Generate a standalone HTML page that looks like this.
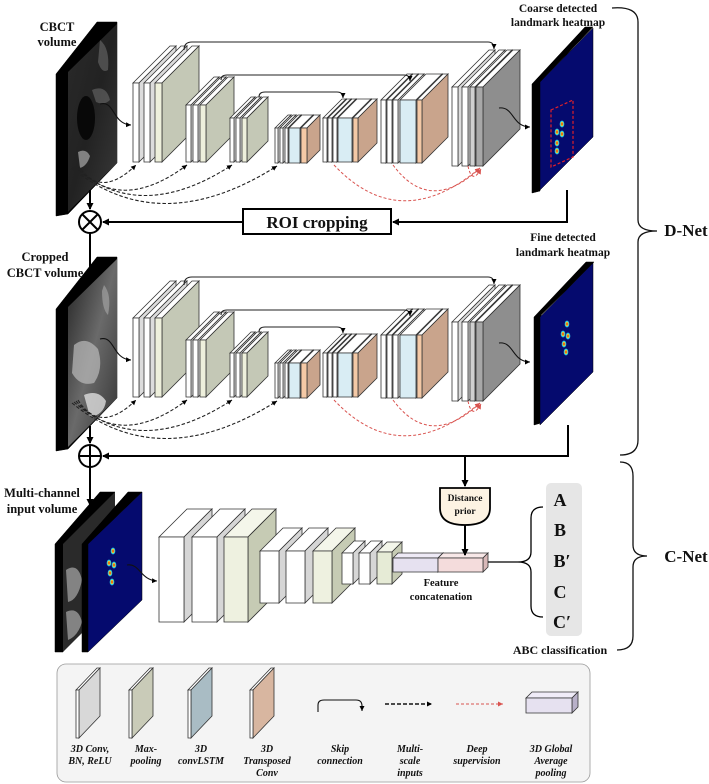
<!DOCTYPE html>
<html><head><meta charset="utf-8">
<style>
html,body{margin:0;padding:0;background:#fff;}
svg{display:block;}
text{font-family:"Liberation Serif",serif;font-weight:bold;fill:#111;}
</style></head>
<body>
<svg id="s" width="709" height="784" viewBox="0 0 709 784" xmlns="http://www.w3.org/2000/svg">
<defs>
<marker id="ab" markerWidth="8" markerHeight="8" refX="6" refY="4" orient="auto" markerUnits="userSpaceOnUse"><path d="M0,0.5 L7,4 L0,7.5 Z" fill="#000"/></marker>
<marker id="as" markerWidth="6" markerHeight="6" refX="5" refY="3" orient="auto" markerUnits="userSpaceOnUse"><path d="M0,0.5 L5,3 L0,5.5 Z" fill="#000"/></marker>
<marker id="ar" markerWidth="6" markerHeight="6" refX="5" refY="3" orient="auto" markerUnits="userSpaceOnUse"><path d="M0,0.5 L5,3 L0,5.5 Z" fill="#d9534f"/></marker>
<linearGradient id="ct1" x1="0" y1="0" x2="1" y2="1"><stop offset="0" stop-color="#2a2a2a"/><stop offset="0.5" stop-color="#222"/><stop offset="1" stop-color="#3a3a3a"/></linearGradient>
<linearGradient id="ct2" x1="0" y1="0" x2="1" y2="1"><stop offset="0" stop-color="#222"/><stop offset="0.5" stop-color="#6a6a6a"/><stop offset="1" stop-color="#333"/></linearGradient>
</defs>
<g id="root"></g>
</svg>
<script>
var o=[];
function P(pts,f,sw,st){o.push('<polygon points="'+pts.map(function(p){return p[0]+','+p[1]}).join(' ')+'" fill="'+f+'" stroke="'+(st||'#333')+'" stroke-width="'+(sw==null?0.8:sw)+'"/>');}
function slab(x,y,w,h,d,ff,sf,tf){
 P([[x,y],[x+d,y-d],[x+w+d,y-d],[x+w,y]],tf||'#fff');
 P([[x+w,y],[x+w+d,y-d],[x+w+d,y+h-d],[x+w,y+h]],sf);
 P([[x,y],[x+w,y],[x+w,y+h],[x,y+h]],ff);
}
var W='#fff',GS='#dcdcdc',CF='#eef0dc',CS='#c4c8b6',BF='#d9edf4',BS='#d6e9f1',PF='#f4c9a6',PS='#c9a48c';
function dot(x,y){o.push('<ellipse cx="'+x+'" cy="'+y+'" rx="2.3" ry="3.4" fill="#28c8e8"/><ellipse cx="'+x+'" cy="'+y+'" rx="1.4" ry="2.2" fill="#f0c020"/><ellipse cx="'+x+'" cy="'+y+'" rx="0.7" ry="1" fill="#e03010"/>');}
function path(d,st,sw,extra){o.push('<path d="'+d+'" fill="none" stroke="'+st+'" stroke-width="'+sw+'" '+(extra||'')+'/>');}
function T(x,y,s,size,extra){o.push('<text x="'+x+'" y="'+y+'" font-size="'+size+'" text-anchor="middle" '+(extra||'')+'>'+s+'</text>');}

function net(dy,img,second){
 var Y=function(v){return v+dy;};
 P([[56,Y(74)],[97,Y(22)],[117,Y(22)],[117,Y(163)],[68,Y(214)],[56,Y(216)]],'#000',0.5,'#000');
 P([[68,Y(72)],[117,Y(24)],[117,Y(163)],[68,Y(212)]],img,0);
 if(!second){
  o.push('<ellipse cx="86" cy="'+Y(118)+'" rx="9" ry="22" fill="#080808"/>');
  o.push('<path d="M78,'+Y(152)+' q8,-4 12,4 q-3,10 -10,12 z" fill="#aaa" opacity="0.7"/>');
  o.push('<path d="M100,'+Y(40)+' q10,8 8,30 q-6,4 -10,-8z M92,'+Y(90)+' q14,-6 18,10 q-6,6 -14,2z" fill="#777" opacity="0.5"/>');
 } else {
  o.push('<path d="M74,'+Y(110)+' q12,-10 24,4 q6,20 -4,34 q-14,4 -22,-10z" fill="#bbb" opacity="0.7"/>');
  o.push('<path d="M84,'+Y(160)+' q14,-6 22,6 q-2,14 -16,16z" fill="#ddd" opacity="0.8"/>');
  o.push('<path d="M104,'+Y(50)+' q8,10 4,30 q-6,-6 -6,-24z" fill="#aaa" opacity="0.6"/>');
 }
 slab(133,Y(83),6,79,37,W,GS); slab(144,Y(83),6,79,37,W,GS); slab(155,Y(83),7,79,37,CF,CS);
 slab(186,Y(105),5,57,28,W,GS); slab(193,Y(105),5,57,28,W,GS); slab(200,Y(105),6,57,28,CF,CS);
 slab(230,Y(118),4,44,21,W,GS); slab(236,Y(118),4,44,21,W,GS); slab(242,Y(118),5,44,21,CF,CS);
 slab(275,Y(128),3,35,13,W,GS); slab(280,Y(128),3,35,13,W,GS); slab(285,Y(128),3,35,13,W,GS);
 slab(289,Y(128),11,35,13,BF,BS); slab(301,Y(128),6,35,13,PF,PS);
 slab(323,Y(118),4,44,19,W,GS); slab(328,Y(118),4,44,19,W,GS); slab(333,Y(118),4,44,19,W,GS);
 slab(338,Y(118),14,44,19,BF,BS); slab(353,Y(118),5,44,19,PF,PS);
 slab(381,Y(100),5,63,26,W,GS); slab(387,Y(100),5,63,26,W,GS); slab(393,Y(100),5,63,26,W,GS);
 slab(400,Y(100),16,63,26,BF,BS); slab(417,Y(100),5,63,26,PF,PS);
 slab(452,Y(87),6,79,37,W,GS); slab(462,Y(87),6,79,37,W,GS); slab(470,Y(87),5,79,37,'#d0d0d0','#bdbdbd'); slab(476,Y(87),7,79,37,'#a8a8a8','#8e8e8e');
 if(!second){
  P([[532,Y(84)],[585,Y(27)],[593,Y(27)],[540,Y(82)],[540,Y(191)],[532,Y(193)]],'#000',0.5,'#000');
 } else {
  P([[534,Y(82)],[586,Y(27)],[594,Y(27)],[541,Y(80)],[541,Y(188)],[534,Y(190)]],'#000',0.5,'#000');
 }
 P([[540,Y(82)],[593,Y(28)],[593,Y(137)],[540,Y(190)]],'#050a6e',0.5,'#000');
 if(!second){
  P([[551,Y(110)],[573,Y(100)],[573,Y(157)],[551,Y(167)]],'none',1.2,'#e0202a');
  o[o.length-1]=o[o.length-1].replace('/>',' stroke-dasharray="3,2"/>');
  dot(557,Y(132));dot(562,Y(124));dot(562,Y(134));dot(557,Y(143));dot(557,Y(151));
 } else {
  dot(567,Y(89));dot(563,Y(99));dot(568,Y(101));dot(564,Y(109));dot(566,Y(117));
 }
 path('M184,'+Y(50)+' Q184,'+Y(42)+' 192,'+Y(42)+' L488,'+Y(42)+' Q494,'+Y(42)+' 494,'+Y(49),'#222',1.1,'marker-end="url(#as)"');
 path('M221,'+Y(80)+' Q221,'+Y(75)+' 227,'+Y(75)+' L404,'+Y(75)+' Q410,'+Y(75)+' 410,'+Y(81),'#222',1.1,'marker-end="url(#as)"');
 path('M259,'+Y(97)+' Q259,'+Y(92)+' 265,'+Y(92)+' L337,'+Y(92)+' Q343,'+Y(92)+' 343,'+Y(98),'#222',1.1,'marker-end="url(#as)"');
 path('M100,'+Y(104)+' C115,'+Y(100)+' 112,'+Y(124)+' 131,'+Y(125),'#111',1.1,'marker-end="url(#as)"');
 path('M499,'+Y(108)+' C514,'+Y(106)+' 512,'+Y(127)+' 530,'+Y(127),'#111',1.1,'marker-end="url(#as)"');
 var da='stroke-dasharray="3.5,2" marker-end="url(#as)"';
 path('M78,'+Y(165)+' Q100,'+Y(200)+' 136,'+Y(165),'#222',1.1,da);
 path('M76,'+Y(166)+' Q120,'+Y(215)+' 187,'+Y(165),'#222',1.1,da);
 path('M74,'+Y(167)+' Q140,'+Y(225)+' 232,'+Y(165),'#222',1.1,da);
 path('M72,'+Y(168)+' Q160,'+Y(240)+' 277,'+Y(166),'#222',1.1,da);
 var dr='stroke-dasharray="3,2" marker-end="url(#ar)"';
 path('M334,'+Y(165)+' Q400,'+Y(235)+' 480,'+Y(168),'#d9534f',1,dr);
 path('M393,'+Y(165)+' Q430,'+Y(215)+' 480,'+Y(168),'#d9534f',1,dr);
 path('M468,'+Y(166)+' Q472,'+Y(185)+' 481,'+Y(169),'#d9534f',1,dr);
}
net(0,'url(#ct1)',false);
net(235,'url(#ct2)',true);

T(57,31,'CBCT',12.5); T(57,46,'volume',12.5);
T(45,261,'Cropped',12.5); T(45,277,'CBCT volume',12.5);
T(558,12,'Coarse detected',11.5); T(558,26,'landmark heatmap',11.5);
T(563,241,'Fine detected',11.5); T(563,256,'landmark heatmap',11.5);

o.push('<rect x="243" y="209" width="148" height="25" fill="#fff" stroke="#000" stroke-width="2"/>');
T(317,228,'ROI cropping',17);
path('M567,190 L567,222 L393,222','#000',2,'marker-end="url(#ab)"');
path('M243,222 L103,222','#000',2,'marker-end="url(#ab)"');
path('M90,190 L90,209','#000',2,'marker-end="url(#ab)"');
o.push('<circle cx="90" cy="222" r="11" fill="#fff" stroke="#000" stroke-width="2"/><path d="M82,214 L98,230 M98,214 L82,230" stroke="#000" stroke-width="2"/>');
path('M90,233 L90,276','#000',2,'marker-end="url(#ab)"');
path('M90,426 L90,443','#000',2,'marker-end="url(#ab)"');
path('M568,425 L568,456 L103,456','#000',2,'marker-end="url(#ab)"');
o.push('<circle cx="90" cy="456" r="11" fill="#fff" stroke="#000" stroke-width="2"/><path d="M79,456 L101,456 M90,445 L90,467" stroke="#000" stroke-width="2"/>');
path('M90,467 L90,505','#000',2,'marker-end="url(#ab)"');
path('M465,456 L465,486','#000',2,'marker-end="url(#ab)"');

T(42,497,'Multi-channel',12.5); T(42,513,'input volume',12.5);
P([[55,544],[100,492],[115,492],[63,544],[63,652],[55,652]],'#000',0.5,'#000');
P([[63,544],[115,492],[115,600],[63,652]],'#2a2a2a',0);
o.push('<path d="M66,570 q12,-8 16,10 q-4,20 -14,22z M66,612 q12,-6 16,10 q-4,14 -14,18z" fill="#aaa" opacity="0.7"/>');
P([[82,544],[128,492],[142,492],[88,544],[88,652],[82,652]],'#000',0.5,'#000');
P([[88,544],[142,492],[142,600],[88,652]],'#050a6e',0.5,'#000');
dot(113,551);dot(109,563);dot(114,565);dot(110,573);dot(112,582);
path('M127,565 C140,563 140,580 157,581','#111',1.1,'marker-end="url(#as)"');

slab(159,537,25,85,28,W,'#d6d6d6'); slab(192,537,25,85,28,W,'#d6d6d6'); slab(224,537,24,85,28,'#eef1e0','#c6cbb4','#f4f6ea');
slab(260,551,19,52,23,W,'#d6d6d6'); slab(286,551,19,52,23,W,'#d6d6d6'); slab(313,551,19,52,23,'#eef1e0','#c6cbb4','#f4f6ea');
slab(342,553,11,31,12,W,'#d6d6d6'); slab(359,553,11,31,12,W,'#d6d6d6'); slab(377,552,15,32,10,'#e6ebd6','#c6cbb4','#f4f6ea');
slab(393,558,45,14,5,'#e6e1f0','#cfc6e0','#eeeaf6'); slab(438,558,45,14,5,'#f4dcdc','#d8b8b8','#f8e8e8');
T(441,586,'Feature',10.5); T(441,600,'concatenation',10.5);
o.push('<path d="M440,488 L490,488 L490,508 Q490,525 465,525 Q440,525 440,508 Z" fill="#fdf3e3" stroke="#000" stroke-width="1.8"/>');
T(465,501,'Distance',9.5); T(465,514,'prior',9.5);
path('M465,525 L465,555','#000',2,'marker-end="url(#ab)"');
path('M488,562 L518,562','#000',1.3);
path('M543,507 Q531,507 531,518 L531,552 Q531,562 518,562 Q531,562 531,572 L531,606 Q531,617 543,617','#000',1.3);
o.push('<rect x="546" y="483" width="36" height="153" rx="5" fill="#e6e6e6"/>');
T(560,506,'A',18); T(560,536,'B',18); T(562,567,'B′',18); T(560,598,'C',18); T(562,628,'C′',18);
T(560,654,'ABC classification',12);

path('M612,8 Q638,6 638,22 L638,220 Q638,231 657,231 Q638,231 638,242 L638,440 Q638,455 620,455','#111',1.3);
path('M620,462 Q633,462 633,476 L633,545 Q633,556 647,556 Q633,556 633,567 L633,636 Q633,650 617,650','#111',1.3);
T(686,236,'D-Net',17); T(686,562,'C-Net',17);

o.push('<rect x="57" y="664" width="533" height="118" rx="9" fill="#f4f4f4" stroke="#999" stroke-width="0.8"/>');
function lslab(x,c){P([[x,690],[x+21,668],[x+24,668],[x+3,690]],'#fff');P([[x+3,690],[x+24,668],[x+24,716],[x+3,738]],c);P([[x,690],[x+3,690],[x+3,738],[x,738]],'#fff');}
lslab(76,'#d8d8d8'); lslab(129,'#c9cbb8'); lslab(188,'#a9bcc4'); lslab(250,'#d8b6a0');
path('M318,712 L318,705 Q318,700 324,700 L356,700 Q362,700 362,706 L362,711','#111',1.1,'marker-end="url(#as)"');
path('M385,704 L432,704','#111',1.5,'stroke-dasharray="4,2" marker-end="url(#as)"');
path('M456,704 L503,704','#d9534f',1.1,'stroke-dasharray="3,2" marker-end="url(#ar)"');
slab(526,698,46,15,6,'#e6e1f0','#b8b0c8','#f0ecf8');
var I='font-style="italic"';
T(90,752,'3D Conv,',10,I);T(90,764,'BN, ReLU',10,I);
T(146,752,'Max-',10,I);T(146,764,'pooling',10,I);
T(201,752,'3D',10,I);T(201,764,'convLSTM',10,I);
T(267,752,'3D',10,I);T(267,764,'Transposed',10,I);T(267,776,'Conv',10,I);
T(340,752,'Skip',10,I);T(340,764,'connection',10,I);
T(410,752,'Multi-',10,I);T(410,764,'scale',10,I);T(410,776,'inputs',10,I);
T(477,752,'Deep',10,I);T(477,764,'supervision',10,I);
T(551,752,'3D Global',10,I);T(551,764,'Average',10,I);T(551,776,'pooling',10,I);

document.getElementById('root').innerHTML=o.join('');
</script>
</body></html>
